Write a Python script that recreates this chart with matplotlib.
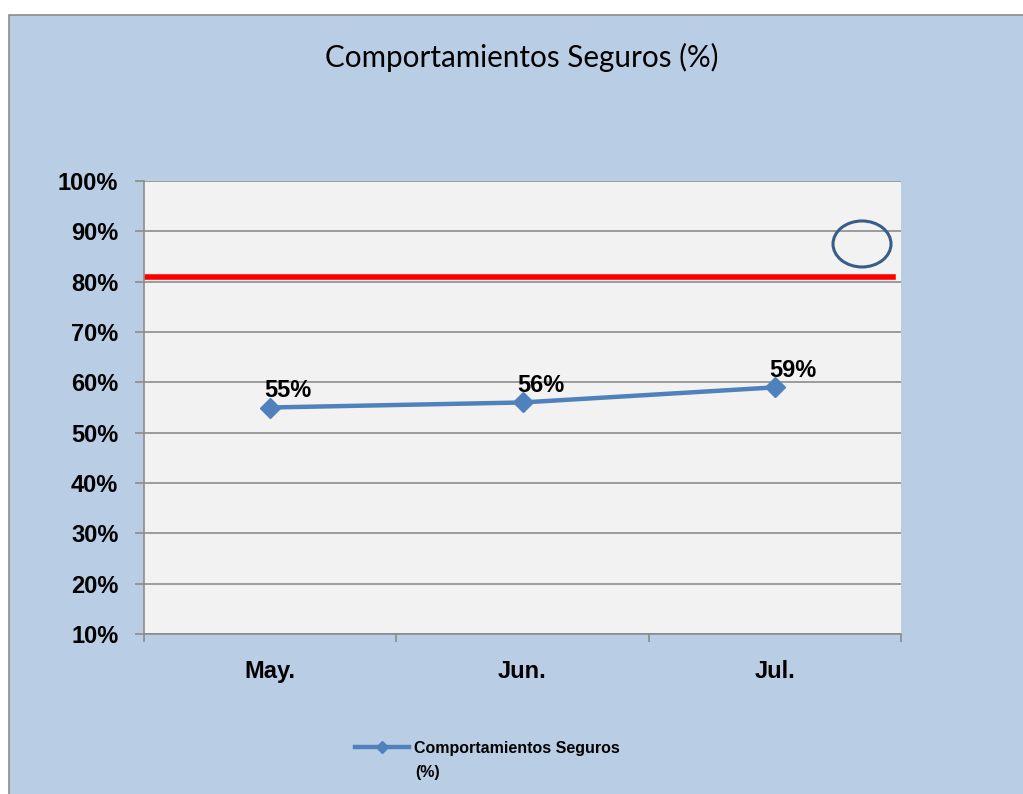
import matplotlib
matplotlib.use("Agg")
import matplotlib.pyplot as plt
from matplotlib.patches import Rectangle, Ellipse
from matplotlib.ticker import FixedLocator

plt.rcParams['font.family'] = ['Liberation Sans', 'DejaVu Sans']

categories = ["May.", "Jun.", "Jul."]
values = [55, 56, 59]
target = 81
yticks = [10, 20, 30, 40, 50, 60, 70, 80, 90, 100]
series_name = "Comportamientos Seguros\n(%)"
title = "Comportamientos Seguros (%)"

fig = plt.figure(figsize=(10.23, 7.94), dpi=100)
fig.patch.set_facecolor("white")
bg = Rectangle((9 / 1023, -0.1), 1.2, 1.1 - 15 / 794, transform=fig.transFigure,
               facecolor="#B9CDE5", edgecolor="#8C8C8C", linewidth=1.2, zorder=-10)
fig.patches.append(bg)

ax = fig.add_axes([144 / 1023, 160 / 794, 757 / 1023, 453 / 794])
ax.set_facecolor("#F2F2F2")
x = list(range(len(categories)))
ax.set_xlim(-0.5, len(categories) - 0.5)
ax.set_ylim(10, 100)

ax.yaxis.set_major_locator(FixedLocator(yticks))
ax.set_yticklabels([f"{v}%" for v in yticks], fontsize=17, fontweight="bold")
ax.grid(axis="y", color="#8C8C8C", linewidth=1.2)
ax.set_axisbelow(True)

ax.set_xticks(x)
ax.set_xticklabels(categories, fontsize=17, fontweight="bold")
ax.tick_params(axis="x", length=0, pad=19)
ax.xaxis.set_minor_locator(FixedLocator([-0.5, 0.5, 1.5, 2.5]))
ax.tick_params(axis="x", which="minor", length=6, color="#8C8C8C", width=1.2)
ax.tick_params(axis="y", length=6.5, color="#8C8C8C", width=1.2, pad=12)

for s in ["top", "right"]:
    ax.spines[s].set_visible(False)
for s in ["left", "bottom"]:
    ax.spines[s].set_color("#8C8C8C")
    ax.spines[s].set_linewidth(1.2)

ax.axhline(target, xmin=0.002, xmax=0.99, color="#FF0000", linewidth=4)

line, = ax.plot(x, values, color="#4F81BD", linewidth=3.2, marker="D",
                markersize=10, markerfacecolor="#4F81BD", markeredgecolor="#4F81BD",
                label=series_name.split("\n")[0], zorder=5)
for xi, v in zip(x, values):
    ax.annotate(f"{v}%", (xi, v), xytext=(-4, 7.5), textcoords="offset points",
                fontsize=17, fontweight="bold", ha="left", va="baseline", zorder=6)

ell = Ellipse((0.9485, 0.861), width=58 / 757, height=46 / 453, transform=ax.transAxes,
              fill=False, edgecolor="#385D8A", linewidth=2.2, zorder=6)
ax.add_patch(ell)

fig.text(522 / 1023, 1 - 57 / 794, title, ha="center", va="center", fontsize=21.3,
         family=["Lato", "DejaVu Sans"])

leg = fig.legend(handles=[line], loc="center left", bbox_to_anchor=(355 / 1023, 1 - 748 / 794),
                 frameon=False, handlelength=3.4, handletextpad=0.3, markerscale=0.65,
                 borderpad=0, borderaxespad=0,
                 prop={"weight": "bold", "size": 11.5})
fig.text(415 / 1023, 1 - 773 / 794, series_name.split("\n")[1], ha="left", va="center",
         fontsize=11.5, fontweight="bold")

fig.savefig("out.png", dpi=100, facecolor=fig.get_facecolor())
